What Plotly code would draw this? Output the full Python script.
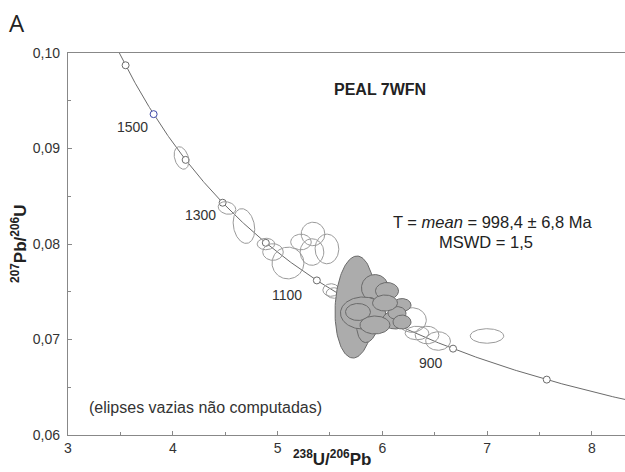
import numpy as np
import plotly.graph_objects as go

# U decay constants (1/yr) and present-day 238U/235U
LAMBDA_238 = 1.55125e-10
LAMBDA_235 = 9.8485e-10
U_RATIO = 137.88

# Concordia age marks (Ma) and the ones that carry a label
mark_ages = [800, 900, 1000, 1100, 1200, 1300, 1400, 1500, 1600]
label_ages = [900, 1100, 1300, 1500]
label_x = [6.464, 5.09, 4.26, 3.62]
label_y = [0.06754, 0.07466, 0.08304, 0.09225]

# Analyses not used in the mean (open ellipses): centre, half-widths, correlation
open_x = [4.083, 4.517, 4.679, 4.889, 4.956, 5.099, 5.223, 5.338, 5.328, 5.471,
          5.510, 5.538, 6.282, 6.330, 6.426, 6.531, 6.998]
open_y = [0.08901, 0.08377, 0.08188, 0.08000, 0.07916, 0.07801, 0.08021, 0.08105,
          0.07916, 0.07948, 0.07518, 0.07487, 0.07204, 0.07068, 0.07047, 0.06984, 0.07037]
open_sx = [0.070, 0.084, 0.103, 0.084, 0.098, 0.152, 0.098, 0.113, 0.113, 0.113,
           0.078, 0.074, 0.137, 0.113, 0.113, 0.118, 0.160]
open_sy = [0.00118, 0.00066, 0.00182, 0.00060, 0.00087, 0.00166, 0.00082, 0.00123,
           0.00139, 0.00155, 0.00066, 0.00055, 0.00129, 0.00071, 0.00092, 0.00097, 0.00076]
open_rho = [-0.3, -0.2, -0.2, 0.0, 0.0, 0.0, 0.0, 0.0, 0.0, 0.0,
            0.0, 0.0, 0.0, 0.0, 0.0, 0.0, 0.0]

# Analyses used in the mean age (grey ellipses)
used_x = [5.739, 5.929, 6.044, 5.863, 5.815, 5.767, 6.187, 6.120, 6.139, 6.187, 6.025, 5.929]
used_y = [0.07340, 0.07539, 0.07508, 0.07204, 0.07277, 0.07288, 0.07361, 0.07204,
          0.07277, 0.07183, 0.07382, 0.07152]
used_sx = [0.191, 0.129, 0.110, 0.110, 0.215, 0.119, 0.086, 0.119, 0.086, 0.086, 0.119, 0.143]
used_sy = [0.00534, 0.00141, 0.00089, 0.00236, 0.00168, 0.00089, 0.00068, 0.00094,
           0.00068, 0.00073, 0.00084, 0.00094]
used_rho = [0.1, 0.0, 0.0, 0.2, 0.0, 0.0, 0.0, 0.0, 0.0, 0.0, 0.0, 0.0]

x_ticks = [3, 4, 5, 6, 7, 8]
y_ticks = [0.06, 0.07, 0.08, 0.09, 0.10]


def tw_point(t_ma):
    t = np.asarray(t_ma, dtype=float) * 1e6
    e238 = np.exp(LAMBDA_238 * t) - 1.0
    e235 = np.exp(LAMBDA_235 * t) - 1.0
    return 1.0 / e238, e235 / e238 / U_RATIO


def ellipse(cx, cy, sx, sy, rho, n=120):
    th = np.linspace(0, 2 * np.pi, n)
    x = cx + sx * np.cos(th)
    y = cy + sy * (rho * np.cos(th) + np.sqrt(1 - rho ** 2) * np.sin(th))
    return x, y


fig = go.Figure()

# concordia curve
cx_, cy_ = tw_point(np.arange(650, 1750, 2))
fig.add_trace(go.Scatter(x=cx_, y=cy_, mode="lines",
                         line=dict(color="#6b6b6b", width=1), hoverinfo="skip"))

# age marks
mx, my = tw_point(mark_ages)
mcol = ["#3d48a8" if a == 1500 else "#6b6b6b" for a in mark_ages]
fig.add_trace(go.Scatter(x=mx, y=my, mode="markers",
                         marker=dict(size=7, color="white",
                                     line=dict(color=mcol, width=1)),
                         hoverinfo="skip"))

# open ellipses
for cx, cy, sx, sy, r in zip(open_x, open_y, open_sx, open_sy, open_rho):
    ex, ey = ellipse(cx, cy, sx, sy, r)
    fig.add_trace(go.Scatter(x=ex, y=ey, mode="lines",
                             line=dict(color="#9a9a9a", width=1), hoverinfo="skip"))

# grey ellipses used in the mean
for cx, cy, sx, sy, r in zip(used_x, used_y, used_sx, used_sy, used_rho):
    ex, ey = ellipse(cx, cy, sx, sy, r)
    fig.add_trace(go.Scatter(x=ex, y=ey, mode="lines", fill="toself",
                             fillcolor="#acacac",
                             line=dict(color="#6a6a6a", width=1), hoverinfo="skip"))

font = "Liberation Sans, Arial, sans-serif"
annotations = []
for a, lx, ly in zip(label_ages, label_x, label_y):
    annotations.append(dict(x=lx, y=ly, text=str(a), showarrow=False,
                            font=dict(size=14, color="#333")))

annotations += [
    dict(x=5.977, y=0.09613, text="<b>PEAL 7WFN</b>", showarrow=False,
         font=dict(size=16, color="#222")),
    dict(x=7.046, y=0.0823, text="T = <i>mean</i> = 998,4 ± 6,8 Ma", showarrow=False,
         font=dict(size=16.5, color="#222")),
    dict(x=6.99, y=0.0802, text="MSWD = 1,5", showarrow=False,
         font=dict(size=16.5, color="#222")),
    dict(x=4.31, y=0.06293, text="(elipses vazias não computadas)", showarrow=False,
         font=dict(size=16, color="#333")),
    dict(xref="paper", yref="paper", x=-0.0916, y=1.081, xanchor="center",
         yanchor="middle", text="A", showarrow=False,
         font=dict(size=24, color="#222", family="Open Sans, sans-serif")),
    dict(xref="paper", yref="paper", x=0.474, y=-0.06, xanchor="center",
         yanchor="middle", text="<b><sup>238</sup>U/<sup>206</sup>Pb</b>",
         showarrow=False, font=dict(size=17, color="#222")),
    dict(xref="paper", yref="paper", x=-0.088, y=0.5, xanchor="center",
         yanchor="middle", textangle=-90,
         text="<b><sup>207</sup>Pb/<sup>206</sup>U</b>", showarrow=False,
         font=dict(size=17, color="#222")),
]

fig.update_layout(
    width=625, height=472,
    margin=dict(l=68, r=0, t=53, b=37),
    paper_bgcolor="white", plot_bgcolor="white",
    showlegend=False,
    separators=",.",
    font=dict(family=font, size=13, color="#333"),
    annotations=annotations,
)
fig.update_xaxes(range=[3, 8.315], tickvals=x_ticks, ticks="inside", ticklen=4,
                 tickcolor="#888", showline=True, linecolor="#888", linewidth=1.3,
                 mirror=True, showgrid=False, zeroline=False,
                 minor=dict(dtick=0.5, ticks="inside", ticklen=3, tickcolor="#888"),
                 tickfont=dict(size=14, color="#333"))
fig.update_yaxes(range=[0.06, 0.10], tickvals=y_ticks, tickformat=".2f",
                 ticks="inside", ticklen=4, tickcolor="#888", showline=True,
                 linecolor="#888", linewidth=1.3, showgrid=False, zeroline=False,
                 ticklabelstandoff=4,
                 minor=dict(dtick=0.005, ticks="inside", ticklen=3, tickcolor="#888"),
                 tickfont=dict(size=14, color="#333"))

fig.write_html("out.html")
